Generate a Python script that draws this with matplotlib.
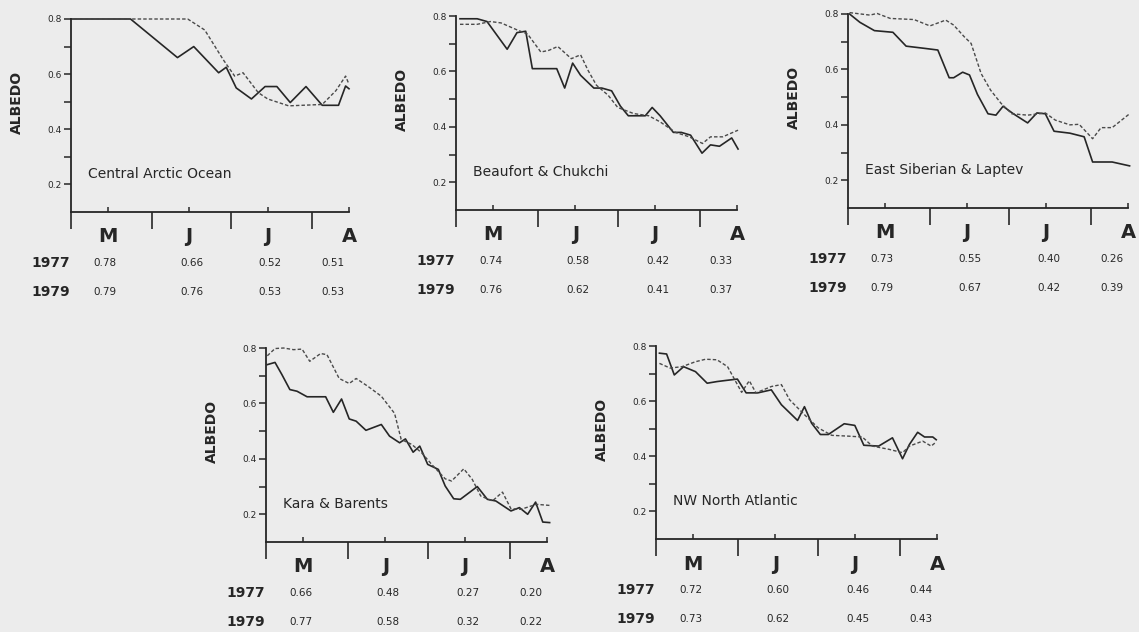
#!/usr/bin/env python3
import matplotlib.pyplot as plt
import numpy as np

plt.rcParams['font.family'] = ['DejaVu Sans']

# x axis in days after 1 May
months = ["M", "J", "J", "A"]
month_mid = [14, 45, 75, 106]
month_edge = [0, 31, 61, 92]
table_x = [13, 46, 76, 100]
years = ["1977", "1979"]

# Central Arctic Ocean
ca_day_77 = [0, 22.7, 40.6, 46.8, 56.3, 59.2, 63, 68.8, 74, 78.5, 83.6, 89.6, 95.8, 102, 104.7, 106]
ca_alb_77 = [0.80, 0.80, 0.66, 0.70, 0.605, 0.625, 0.55, 0.51, 0.555, 0.555, 0.497, 0.555, 0.487, 0.487, 0.557, 0.547]
ca_day_79 = [0, 44.5, 51, 58, 62.4, 65.6, 71.4, 75, 83, 95.8, 101, 104.7, 106]
ca_alb_79 = [0.80, 0.80, 0.76, 0.653, 0.593, 0.605, 0.533, 0.51, 0.485, 0.49, 0.54, 0.593, 0.563]
ca_mean_77 = ["0.78", "0.66", "0.52", "0.51"]
ca_mean_79 = ["0.79", "0.76", "0.53", "0.53"]

# Beaufort & Chukchi
bc_day_77 = [1.5, 8, 11.7, 19.3, 23, 26.3, 28.8, 38, 41, 44, 47, 52, 55, 58.7, 62, 65, 71.4, 74, 77, 82, 85, 88.5, 92.8, 96, 99.4, 104, 106.4]
bc_alb_77 = [0.79, 0.79, 0.78, 0.68, 0.74, 0.745, 0.61, 0.61, 0.54, 0.63, 0.586, 0.54, 0.54, 0.53, 0.475, 0.44, 0.44, 0.47, 0.44, 0.38, 0.38, 0.37, 0.305, 0.335, 0.33, 0.36, 0.32]
bc_day_79 = [1.5, 8, 13, 17, 23, 27, 32, 35, 38.4, 43.5, 47, 49.8, 53, 57.4, 61, 67, 72.7, 77, 82.8, 88, 93, 96, 100.6, 106.4]
bc_alb_79 = [0.77, 0.77, 0.78, 0.775, 0.75, 0.735, 0.67, 0.676, 0.69, 0.646, 0.66, 0.604, 0.55, 0.514, 0.47, 0.448, 0.44, 0.418, 0.38, 0.364, 0.34, 0.364, 0.364, 0.388]
bc_mean_77 = ["0.74", "0.58", "0.42", "0.33"]
bc_mean_79 = ["0.76", "0.62", "0.41", "0.37"]

# East Siberian & Laptev
es_day_77 = [0.6, 4.5, 10, 17, 22, 29, 34, 38.3, 40, 43.4, 46, 49, 53, 56, 58.7, 62.6, 68, 71.5, 74.7, 78, 84, 89.4, 92.6, 100, 106.6]
es_alb_77 = [0.80, 0.77, 0.74, 0.734, 0.684, 0.676, 0.67, 0.57, 0.57, 0.59, 0.58, 0.51, 0.44, 0.435, 0.467, 0.44, 0.407, 0.443, 0.44, 0.377, 0.37, 0.357, 0.266, 0.266, 0.252]
es_day_79 = [0.6, 8.3, 11, 16, 25, 31, 37, 40, 44, 46.6, 50.4, 54, 58, 62, 68, 74.7, 78.5, 84, 87.5, 92.6, 95.8, 100, 106.6]
es_alb_79 = [0.805, 0.796, 0.802, 0.784, 0.78, 0.757, 0.778, 0.76, 0.718, 0.694, 0.585, 0.525, 0.477, 0.44, 0.435, 0.443, 0.417, 0.40, 0.402, 0.35, 0.39, 0.39, 0.44]
es_mean_77 = ["0.73", "0.55", "0.40", "0.26"]
es_mean_79 = ["0.79", "0.67", "0.42", "0.39"]

# Kara & Barents
kb_day_77 = [0.5, 3.4, 6, 9, 11.7, 15.5, 22.5, 25.4, 28.5, 31.4, 34, 37.7, 43.5, 46.6, 50.4, 52.6, 55.5, 58, 61, 65, 67.6, 70.8, 73.3, 79.7, 83.5, 86.7, 92.4, 95.6, 98.7, 101.7, 104.4, 107]
kb_alb_77 = [0.74, 0.748, 0.704, 0.65, 0.644, 0.624, 0.624, 0.568, 0.616, 0.544, 0.536, 0.503, 0.524, 0.482, 0.458, 0.472, 0.424, 0.446, 0.38, 0.362, 0.302, 0.256, 0.254, 0.30, 0.254, 0.248, 0.212, 0.224, 0.20, 0.244, 0.172, 0.17]
kb_day_79 = [0.5, 3.4, 6.6, 10.4, 13.6, 16.5, 20.6, 23, 27.6, 31.4, 34, 38.4, 43.5, 48.5, 51, 55, 58.7, 62.5, 67.6, 70, 74.6, 77.8, 81, 85.4, 89.2, 92.4, 96.2, 102, 107]
kb_alb_79 = [0.772, 0.798, 0.80, 0.794, 0.796, 0.752, 0.78, 0.776, 0.69, 0.672, 0.69, 0.662, 0.626, 0.564, 0.47, 0.452, 0.422, 0.38, 0.328, 0.32, 0.364, 0.326, 0.266, 0.248, 0.28, 0.22, 0.218, 0.236, 0.232]
kb_mean_77 = ["0.66", "0.48", "0.27", "0.20"]
kb_mean_79 = ["0.77", "0.58", "0.32", "0.22"]

# NW North Atlantic
na_day_77 = [1.3, 4, 6.9, 10.4, 14.9, 19.3, 23, 26.3, 30.7, 34, 38.4, 43.5, 47.3, 53.4, 56, 58.7, 62, 65, 71, 75, 78.4, 84, 89.2, 93, 95.6, 98.7, 101.3, 104.4, 105.7]
na_alb_77 = [0.774, 0.771, 0.695, 0.725, 0.707, 0.665, 0.671, 0.675, 0.68, 0.63, 0.63, 0.641, 0.587, 0.53, 0.58, 0.52, 0.479, 0.479, 0.518, 0.512, 0.44, 0.437, 0.467, 0.391, 0.443, 0.487, 0.47, 0.47, 0.46]
na_day_79 = [1.3, 5.3, 9.8, 14.9, 18.7, 23, 27, 32.3, 35.2, 37.7, 43.5, 47.3, 50.4, 56, 61.2, 66.3, 72.7, 77.8, 81.6, 88, 93, 95.6, 100.6, 103.8, 105.7]
na_alb_79 = [0.737, 0.72, 0.725, 0.743, 0.752, 0.75, 0.725, 0.632, 0.674, 0.63, 0.653, 0.66, 0.605, 0.551, 0.503, 0.476, 0.473, 0.47, 0.437, 0.425, 0.413, 0.437, 0.455, 0.437, 0.452]
na_mean_77 = ["0.72", "0.60", "0.46", "0.44"]
na_mean_79 = ["0.73", "0.62", "0.45", "0.43"]

W, H = 1139, 632
bg = "#ececec"
ink = "#262626"

# (left px, right px, y of 0.8 px, y of 0.1 px)
panels = [
    ("Central Arctic Ocean", ca_day_77, ca_alb_77, ca_day_79, ca_alb_79, ca_mean_77, ca_mean_79, (71, 349, 19, 212)),
    ("Beaufort & Chukchi", bc_day_77, bc_alb_77, bc_day_79, bc_alb_79, bc_mean_77, bc_mean_79, (456, 737, 16, 210)),
    ("East Siberian & Laptev", es_day_77, es_alb_77, es_day_79, es_alb_79, es_mean_77, es_mean_79, (848, 1128, 14, 208)),
    ("Kara & Barents", kb_day_77, kb_alb_77, kb_day_79, kb_alb_79, kb_mean_77, kb_mean_79, (266, 547, 348, 542)),
    ("NW North Atlantic", na_day_77, na_alb_77, na_day_79, na_alb_79, na_mean_77, na_mean_79, (656, 937, 346, 539)),
]

fig = plt.figure(figsize=(W / 100, H / 100), dpi=100, facecolor=bg)

PT = 0.72  # px -> points at dpi 100


def below(ax, text, x, dy, **kw):
    ax.annotate(text, xy=(x, 0), xycoords=ax.get_xaxis_transform(),
                xytext=(0, -dy * PT), textcoords="offset points",
                ha="center", va="center", color=ink, annotation_clip=False, **kw)


for name, d77, a77, d79, a79, m77, m79, (l, r, t, b) in panels:
    ax = fig.add_axes([l / W, 1 - b / H, (r - l) / W, (b - t) / H])
    ax.set_facecolor("none")

    ax.plot(d77, a77, color=ink, lw=1.2, clip_on=False)
    ax.plot(d79, a79, color="#4a4a4a", lw=1.0, dashes=(2.5, 1.5), clip_on=False)

    ax.set_xlim(0, 106)
    ax.set_ylim(0.1, 0.8)

    for s in ["top", "right"]:
        ax.spines[s].set_visible(False)
    for s in ["left", "bottom"]:
        ax.spines[s].set_color(ink)
        ax.spines[s].set_linewidth(1.3)

    ax.set_yticks([0.2, 0.3, 0.4, 0.5, 0.6, 0.7, 0.8])
    ax.set_yticklabels(["0.2", "", "0.4", "", "0.6", "", "0.8"])
    ax.tick_params(axis="y", direction="out", length=5, width=1.1, color=ink,
                   labelsize=6.5, labelcolor=ink, pad=2)

    ax.set_xticks(month_edge)
    ax.set_xticklabels([])
    ax.set_xticks(month_mid, minor=True)
    ax.tick_params(axis="x", which="major", direction="out", length=12, width=1.2, color=ink)
    ax.tick_params(axis="x", which="minor", direction="in", length=3.5, width=1.1, color=ink)

    ax.text(-0.193, 0.57, "ALBEDO", rotation=90, transform=ax.transAxes,
            ha="center", va="center", fontsize=10, fontweight="bold", color=ink)
    ax.text(6.5, 0.238, name, ha="left", va="center", fontsize=10, color=ink)

    for mx, lab in zip(month_mid, months):
        below(ax, lab, mx, 25, fontsize=14, fontweight="bold")

    for dy, yr, vals in [(51, years[0], m77), (80, years[1], m79)]:
        ax.annotate(yr, xy=(0, 0), xycoords="axes fraction",
                    xytext=(-1 * PT, -dy * PT), textcoords="offset points",
                    ha="right", va="center", fontsize=10, fontweight="bold",
                    color=ink, annotation_clip=False)
        for tx, v in zip(table_x, vals):
            below(ax, v, tx, dy, fontsize=7.5)

fig.savefig("out.png", dpi=100, facecolor=bg)
